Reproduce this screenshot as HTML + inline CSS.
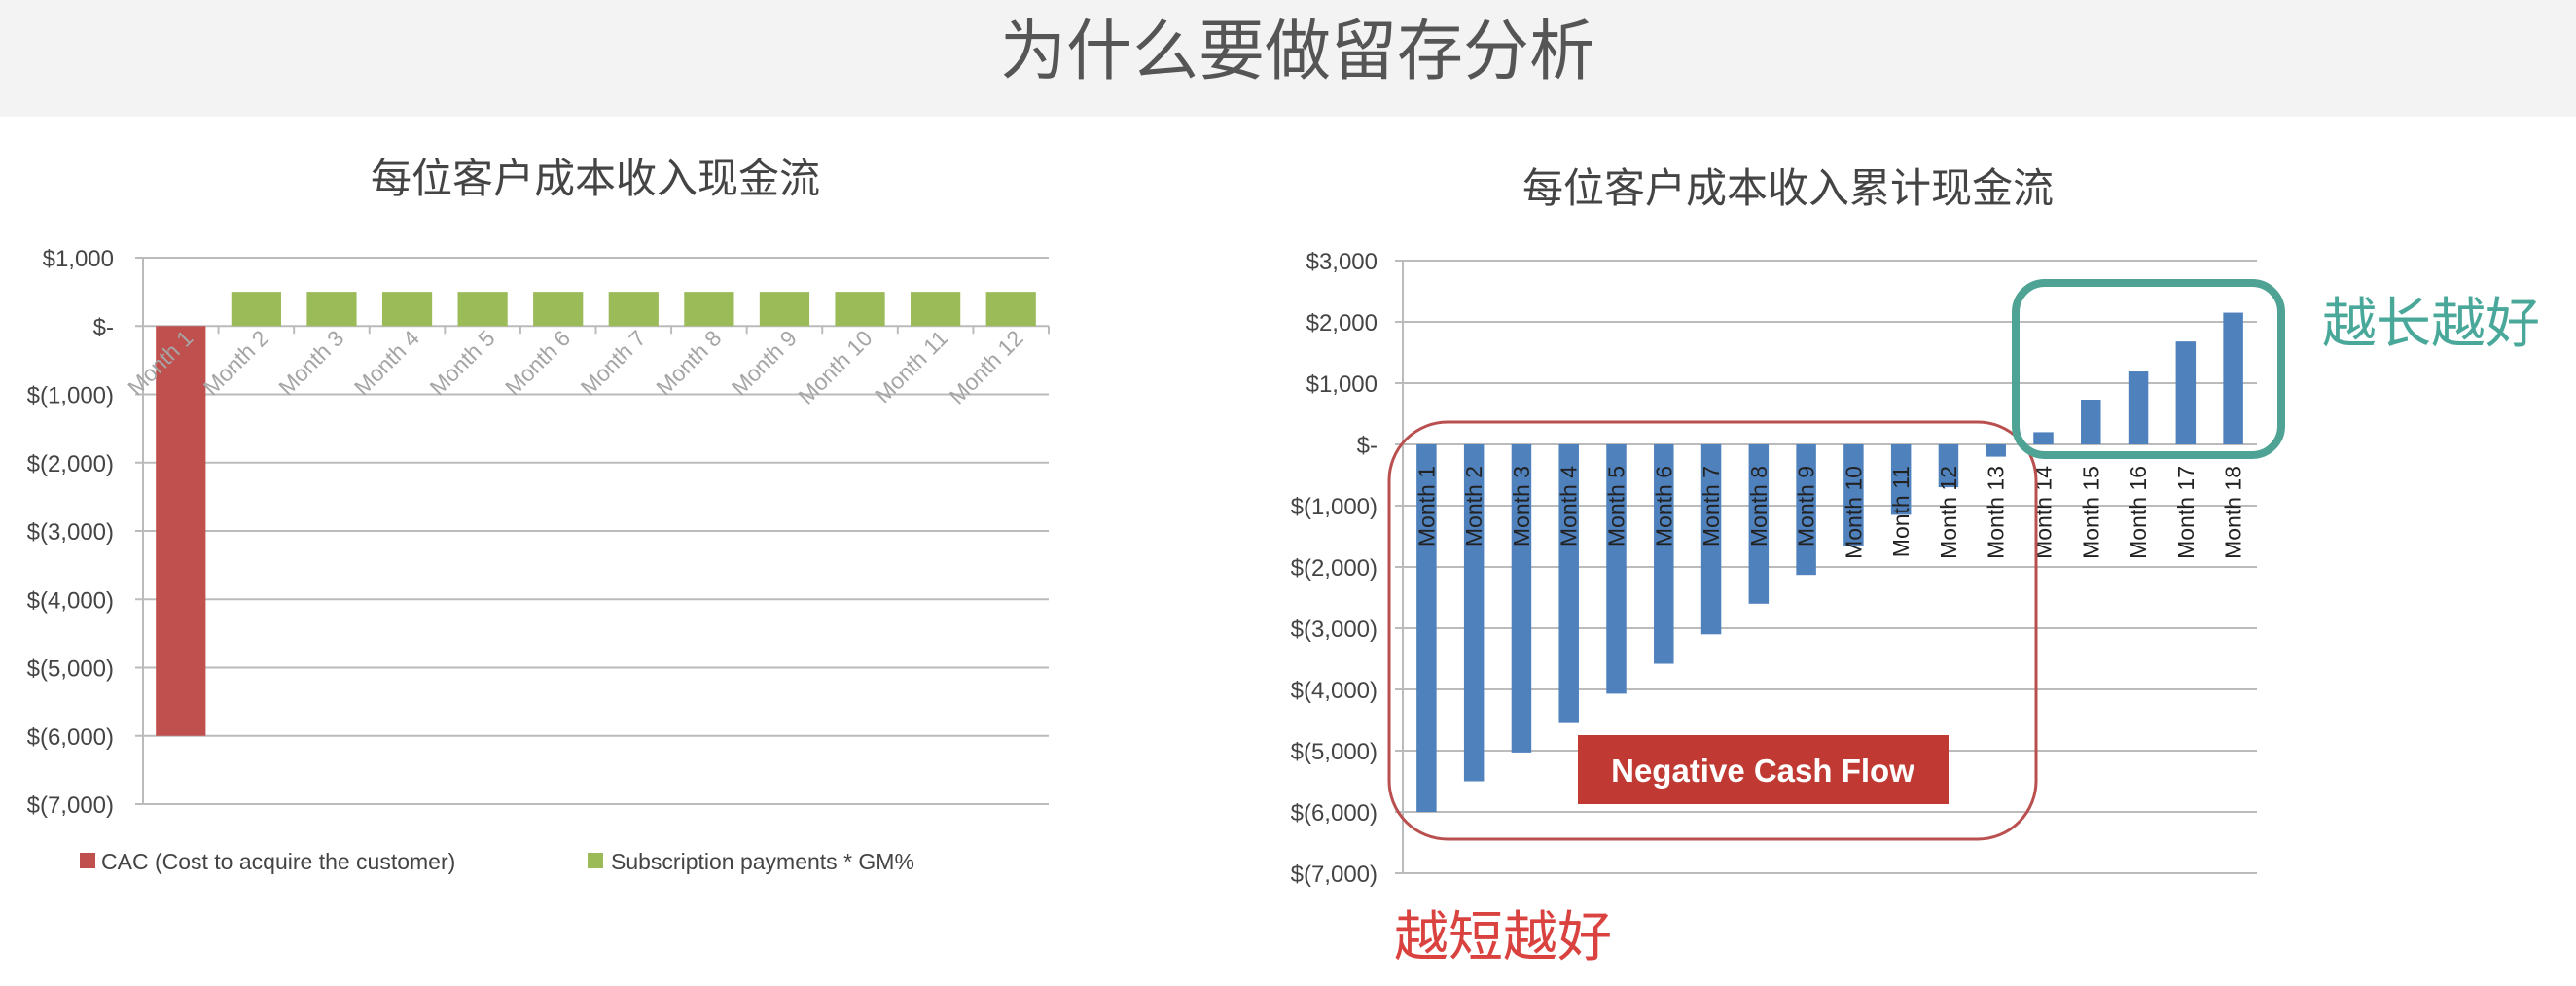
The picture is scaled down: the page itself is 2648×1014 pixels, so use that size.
<!DOCTYPE html>
<html><head><meta charset="utf-8"><style>
html,body{margin:0;padding:0;background:#fff;}
svg{display:block;font-family:"Liberation Sans","Noto Sans CJK SC",sans-serif;}
</style></head><body>
<svg id="s" width="2648" height="1014" viewBox="0 0 2648 1014">
<rect x="0" y="0" width="2648" height="120" fill="#f3f3f3"/>
<text x="1334" y="76" text-anchor="middle" font-size="68" fill="#555">为什么要做留存分析</text>
<text x="612" y="198" text-anchor="middle" font-size="42" fill="#444">每位客户成本收入现金流</text>
<text x="1838" y="208" text-anchor="middle" font-size="42" fill="#444">每位客户成本收入累计现金流</text>
<g id="left"></g>
<g id="right"></g>
<rect x="1428" y="434" width="665" height="429" rx="60" fill="none" stroke="#b9504f" stroke-width="3"/>
<rect x="1622" y="756" width="381" height="71" fill="#c03a33"/>
<text x="1812" y="804" text-anchor="middle" font-size="33" font-weight="bold" fill="#fff">Negative Cash Flow</text>
<rect x="2072" y="291" width="273" height="177" rx="30" fill="none" stroke="#4fa394" stroke-width="8"/>
<text x="2387" y="352" font-size="56" fill="#4aa89a">越长越好</text>
<text x="1433" y="983" font-size="56" fill="#d9423f">越短越好</text>
</svg>
<script>
var leftCategories=["Month 1","Month 2","Month 3","Month 4","Month 5","Month 6","Month 7","Month 8","Month 9","Month 10","Month 11","Month 12"];
var leftCac=[-6000,0,0,0,0,0,0,0,0,0,0,0];
var leftSubs=[0,500,500,500,500,500,500,500,500,500,500,500];
var leftTicks=[1000,0,-1000,-2000,-3000,-4000,-5000,-6000,-7000];
var rightCategories=["Month 1","Month 2","Month 3","Month 4","Month 5","Month 6","Month 7","Month 8","Month 9","Month 10","Month 11","Month 12","Month 13","Month 14","Month 15","Month 16","Month 17","Month 18"];
var rightValues=[-6000,-5500,-5030,-4550,-4070,-3580,-3100,-2600,-2130,-1650,-1150,-700,-200,200,730,1190,1680,2150];
var rightTicks=[3000,2000,1000,0,-1000,-2000,-3000,-4000,-5000,-6000,-7000];
var NS="http://www.w3.org/2000/svg";
function mk(p,t,a){var e=document.createElementNS(NS,t);for(var k in a)e.setAttribute(k,a[k]);p.appendChild(e);return e;}
function fmt(v){if(v===0)return "$-";var s=Math.abs(v).toLocaleString("en-US");return v<0?"$("+s+")":"$"+s;}
(function(){
var g=document.getElementById('left');
var x0=147,x1=1078,yTop=265,yBot=827,vMax=1000,vMin=-7000;
function y(v){return yTop+(vMax-v)/(vMax-vMin)*(yBot-yTop);}
var slot=(x1-x0)/leftCategories.length;
leftTicks.forEach(function(t){
var l=mk(g,'line',{x1:x0-8,x2:x1,y1:y(t),y2:y(t),stroke:'#bbb','stroke-width':2});


var tx=mk(g,'text',{x:x0-30,y:y(t)+9,'text-anchor':'end','font-size':24,fill:'#444'});
tx.textContent=fmt(t);


});
var ax=mk(g,'line',{x1:x0,x2:x0,y1:yTop,y2:yBot,stroke:'#bbb','stroke-width':2});


var bw=slot*0.66;
leftCategories.forEach(function(c,i){
var cx=x0+slot*(i+0.5);
if(leftCac[i]!==0){var r=mk(g,'rect',{x:cx-bw/2,y:Math.min(y(0),y(leftCac[i])),width:bw,height:Math.abs(y(leftCac[i])-y(0)),fill:'#c0504d'});

}
if(leftSubs[i]!==0){var r2=mk(g,'rect',{x:cx-bw/2,y:Math.min(y(0),y(leftSubs[i])),width:bw,height:Math.abs(y(leftSubs[i])-y(0)),fill:'#9bbb59'});

}
var tk=mk(g,'line',{x1:x0+slot*(i+1),x2:x0+slot*(i+1),y1:y(0),y2:y(0)+8,stroke:'#bbb','stroke-width':2});


var lx=cx+14,ly=y(0)+14;
var t=mk(g,'text',{x:lx,y:ly,'text-anchor':'end','font-size':23,fill:'#a5a5a5',transform:'rotate(-45 '+lx+' '+ly+')'});
t.textContent=c;


});
var lg1=mk(g,'rect',{x:82,y:877,width:16,height:16,fill:'#c0504d'});


var lt1=mk(g,'text',{x:104,y:894,'font-size':23,fill:'#444'});lt1.textContent='CAC (Cost to acquire the customer)';


var lg2=mk(g,'rect',{x:604,y:877,width:16,height:16,fill:'#9bbb59'});


var lt2=mk(g,'text',{x:628,y:894,'font-size':23,fill:'#444'});lt2.textContent='Subscription payments * GM%';


})();
(function(){
var g=document.getElementById('right');
var x0=1442,x1=2320,yTop=268,yBot=898,vMax=3000,vMin=-7000;
function y(v){return yTop+(vMax-v)/(vMax-vMin)*(yBot-yTop);}
var slot=(x1-x0)/rightCategories.length;
rightTicks.forEach(function(t){
var l=mk(g,'line',{x1:x0-8,x2:x1,y1:y(t),y2:y(t),stroke:'#bbb','stroke-width':2});


var tx=mk(g,'text',{x:x0-26,y:y(t)+9,'text-anchor':'end','font-size':24,fill:'#444'});
tx.textContent=fmt(t);


});
var ax=mk(g,'line',{x1:x0,x2:x0,y1:yTop,y2:yBot,stroke:'#bbb','stroke-width':2});


var bw=slot*0.42;
rightCategories.forEach(function(c,i){
var cx=x0+slot*(i+0.5),v=rightValues[i];
var r=mk(g,'rect',{x:cx-bw/2,y:Math.min(y(0),y(v)),width:bw,height:Math.abs(y(v)-y(0)),fill:'#4f81bd'});


var lx=cx+8,ly=y(0)+22;
var t=mk(g,'text',{x:lx,y:ly,'text-anchor':'end','font-size':23,fill:'#222',transform:'rotate(-90 '+lx+' '+ly+')'});
t.textContent=c;


});
})();
</script>
</body></html>
